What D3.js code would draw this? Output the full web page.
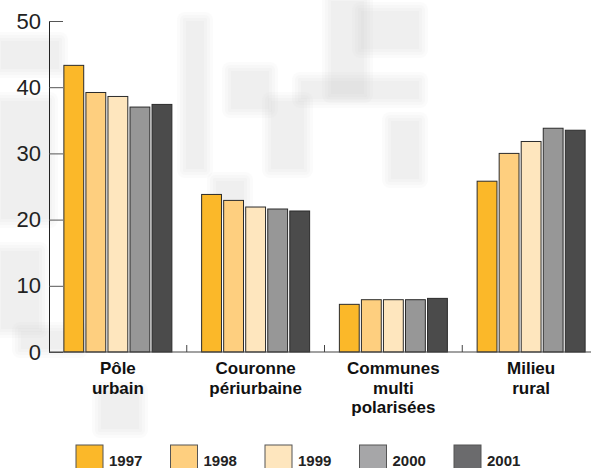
<!DOCTYPE html>
<html>
<head>
<meta charset="utf-8">
<script src="https://cdn.jsdelivr.net/npm/d3@7"></script>
<style>
  body { margin: 0; background: #fff; }
  svg { display: block; font-family: "Liberation Sans", Arial, Helvetica, sans-serif; }
</style>
</head>
<body>
<svg></svg>
<script>
/*data*/
const categories = [["Pôle", "urbain"], ["Couronne", "périurbaine"], ["Communes", "multi", "polarisées"], ["Milieu", "rural"]];
const years = ["1997", "1998", "1999", "2000", "2001"];
const values = {
  "1997": [43.3, 23.8, 7.2, 25.8],
  "1998": [39.2, 22.9, 7.9, 30.0],
  "1999": [38.6, 21.9, 7.9, 31.8],
  "2000": [37.0, 21.6, 7.9, 33.8],
  "2001": [37.4, 21.3, 8.1, 33.5]
};
const yTicks = [0, 10, 20, 30, 40, 50];

const barColors = ["#fbb829", "#fecf7f", "#fee6be", "#979797", "#4b4b4b"];
const legendColors = ["#fbb829", "#fecf7f", "#fee6be", "#a6a6a8", "#6b6b6d"];

/*basic setup*/
const svgWidth = 591, svgHeight = 468;
const svg = d3.select("svg").attr("width", svgWidth).attr("height", svgHeight);

// faint background picture (watermark look); soft edges faked with stacked layers
const bg = svg.append("g").attr("fill", "#c8c8c8");
const blobs = [[0, 40, 60, 30], [0, 100, 50, 120], [0, 250, 40, 80], [185, 20, 20, 150], [230, 70, 40, 40],
 [330, 0, 35, 95], [300, 80, 120, 20], [270, 100, 35, 70], [390, 120, 30, 60], [215, 180, 30, 30],
 [100, 390, 40, 40], [20, 330, 60, 20], [360, 10, 60, 40]];
[8, 5, 2, -1].forEach(k => {
  bg.selectAll(null).data(blobs).enter().append("rect")
    .attr("x", r => r[0] - k).attr("y", r => r[1] - k)
    .attr("width", r => Math.max(1, r[2] + 2 * k)).attr("height", r => Math.max(1, r[3] + 2 * k))
    .attr("rx", Math.max(0, k))
    .attr("opacity", 0.07);
});

/*scales*/
const y = d3.scaleLinear().domain([0, 50]).range([352, 21]);
const x = d3.scaleBand().domain(d3.range(categories.length)).range([49, 600]);
const groupWidth = 108;
const xSub = d3.scaleBand().domain(years)
  .range([(x.bandwidth() - groupWidth) / 2, (x.bandwidth() + groupWidth) / 2])
  .paddingInner(0.1);

/* bars */
const groups = svg.append("g").selectAll("g")
  .data(categories)
  .enter().append("g")
  .attr("transform", (d, i) => "translate(" + x(i) + ",0)");

groups.selectAll("rect")
  .data((d, i) => years.map(yr => ({ yr: yr, v: values[yr][i] })))
  .enter().append("rect")
  .attr("x", d => xSub(d.yr))
  .attr("width", xSub.bandwidth())
  .attr("y", d => y(d.v))
  .attr("height", d => y(0) - y(d.v))
  .attr("fill", d => barColors[years.indexOf(d.yr)])
  .attr("stroke", "#2b2b2b")
  .attr("stroke-width", 1);

/* y axis */
const yAxis = svg.append("g")
  .attr("transform", "translate(49,0)")
  .call(d3.axisLeft(y).tickValues(yTicks).tickSizeInner(-14).tickSizeOuter(0).tickPadding(8));
yAxis.select(".domain").attr("stroke", "#222");
yAxis.selectAll(".tick line").attr("stroke", "#555");
yAxis.selectAll("text").attr("font-size", 22).attr("fill", "#222").attr("font-family", "Liberation Sans, Arial, sans-serif");

/* x axis line + separators */
svg.append("line").attr("x1", 49).attr("x2", svgWidth).attr("y1", y(0)).attr("y2", y(0))
  .attr("stroke", "#444").attr("stroke-width", 1.2);
svg.append("g").selectAll("line")
  .data(d3.range(1, categories.length))
  .enter().append("line")
  .attr("x1", i => x(i)).attr("x2", i => x(i))
  .attr("y1", y(0)).attr("y2", y(0) - 7)
  .attr("stroke", "#444");

/* category labels */
svg.append("g").selectAll("text")
  .data(categories)
  .enter().append("text")
  .attr("text-anchor", "middle")
  .attr("font-weight", "bold")
  .attr("font-size", 17)
  .attr("fill", "#111")
  .each(function (d, i) {
    const t = d3.select(this);
    d.forEach((line, j) => {
      t.append("tspan")
        .attr("x", x(i) + x.bandwidth() / 2)
        .attr("y", 374 + j * 19.5)
        .text(line);
    });
  });

/* legend */
const legend = svg.append("g").selectAll("g")
  .data(years)
  .enter().append("g")
  .attr("transform", (d, i) => "translate(" + (76 + i * 94.5) + ",445)");
legend.append("rect")
  .attr("width", 27).attr("height", 30)
  .attr("fill", (d, i) => legendColors[i])
  .attr("stroke", "#555");
legend.append("text")
  .attr("x", 33).attr("y", 21)
  .attr("font-size", 15)
  .attr("font-weight", "bold")
  .attr("fill", "#222")
  .text(d => d);
</script>
</body>
</html>
